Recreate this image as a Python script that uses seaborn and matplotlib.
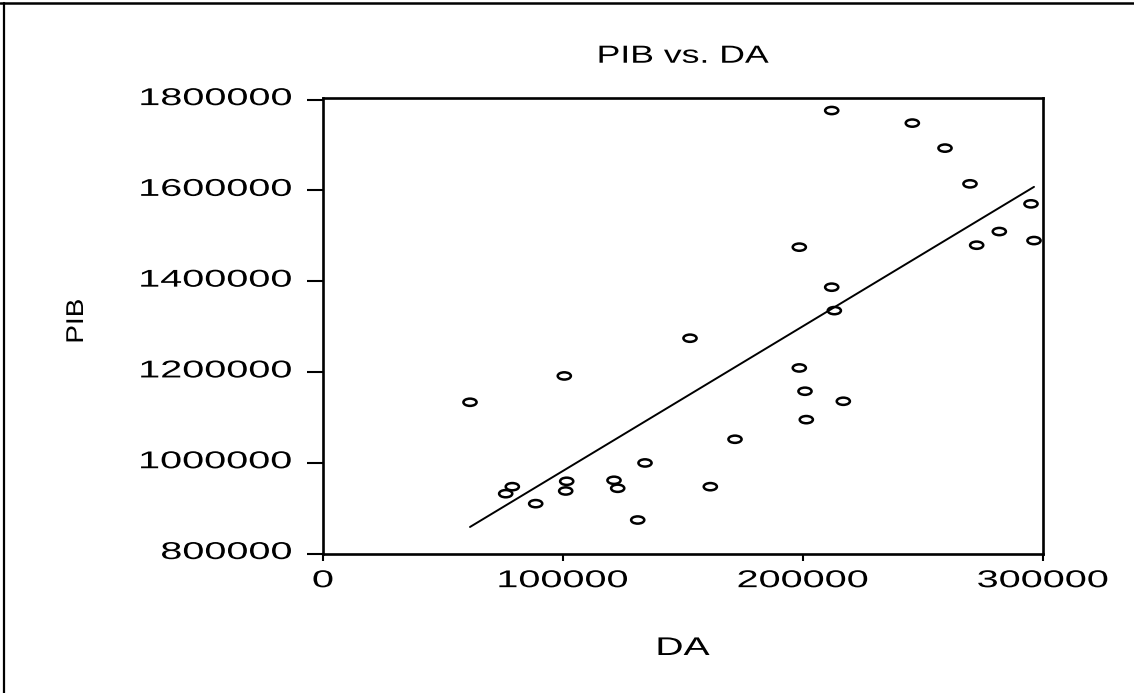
import matplotlib
matplotlib.use("Agg")
import numpy as np
import pandas as pd
import seaborn as sns
import matplotlib.pyplot as plt
from matplotlib.path import Path
from matplotlib.transforms import Affine2D
from matplotlib.patheffects import AbstractPathEffect
from matplotlib.lines import Line2D

# ---------------- data ----------------
da = [61250, 76120, 78880, 88620, 100540, 101120, 101540, 121250, 122790,
      131130, 134170, 152920, 161380, 171670, 198460, 198460, 200830, 201380,
      211960, 211960, 213060, 216800, 245550, 259170, 269580, 272360, 281800,
      295000, 296250]
pib = [1133200, 931800, 947200, 909800, 1191200, 937750, 959100, 961300, 943700,
       873800, 999500, 1274300, 947200, 1051700, 1474900, 1208800, 1157500, 1094900,
       1775900, 1386700, 1335100, 1135400, 1748200, 1693100, 1614400, 1479200, 1509300,
       1570300, 1489400]
x_ticks = [0, 100000, 200000, 300000]
x_tick_labels = ["0", "100000", "200000", "300000"]
y_ticks = [800000, 1000000, 1200000, 1400000, 1600000, 1800000]
y_tick_labels = ["800000", "1000000", "1200000", "1400000", "1600000", "1800000"]
title = "PIB vs. DA"
x_label = "DA"
y_label = "PIB"

df = pd.DataFrame({"DA": da, "PIB": pib})


# horizontal stretch of text glyphs (reference text is wide)
class Stretch(AbstractPathEffect):
    def __init__(self, sx=1.0, pivot="left", dy=0.0):
        super().__init__()
        self.sx = sx
        self.pivot = pivot
        self.dy = dy

    def draw_path(self, renderer, gc, tpath, affine, rgbFace=None):
        if len(tpath.vertices) == 0:
            return
        ext = tpath.get_extents()
        if self.pivot == "left":
            p = ext.x0
        elif self.pivot == "right":
            p = ext.x1
        else:
            p = 0.5 * (ext.x0 + ext.x1)
        tr = (Affine2D().translate(-p, 0).scale(self.sx, 1).translate(p, 0)
              + affine + Affine2D().translate(0, self.dy))
        renderer.draw_path(gc, tpath, tr, rgbFace)


sns.set_style("white")
plt.rcParams["font.family"] = ["Liberation Sans", "DejaVu Sans"]

W, H = 1134, 693
fig = plt.figure(figsize=(W / 100, H / 100), dpi=100)
ax = fig.add_axes([323 / W, 1 - 553.5 / H, 720 / W, 455.5 / H])

# elliptical open marker
circ = Path.unit_circle()
ell = Path(circ.vertices * np.array([1.0, 0.55]), circ.codes)

sns.scatterplot(data=df, x="DA", y="PIB", ax=ax, marker=ell, s=90,
                facecolor="none", edgecolor="black", linewidth=1.8, zorder=3)
sns.regplot(data=df, x="DA", y="PIB", ax=ax, scatter=False, ci=None,
            truncate=True, line_kws={"color": "black", "linewidth": 1.4})

ax.set_xlim(0, 300000)
ax.set_ylim(800000, 1803500)
ax.set_xticks(x_ticks, labels=x_tick_labels)
ax.set_yticks(y_ticks, labels=y_tick_labels)

for s in ax.spines.values():
    s.set_visible(True)
    s.set_linewidth(1.9)
    s.set_color("black")

ax.tick_params(axis="y", direction="out", length=11.3, width=1.5, pad=10.8,
               labelsize=17.5, colors="black", left=True)
ax.tick_params(axis="x", direction="out", length=5, width=1.5, pad=7,
               labelsize=17.5, colors="black", bottom=True)

ax.set_title(title, fontsize=17.8, pad=25.4, color="black")
ax.set_xlabel(x_label, fontsize=18.4, color="black")
ax.set_ylabel(y_label, fontsize=17.5, color="black")
ax.xaxis.label.set_va("baseline")
ax.xaxis.set_label_coords(0.5, (553.5 - 655) / 455.5)
ax.yaxis.label.set_va("baseline")
ax.yaxis.set_label_coords((83 - 323) / 720, 0.51)

# figure border (top and left)
fig.add_artist(Line2D([0, 1], [1 - 3 / H, 1 - 3 / H], transform=fig.transFigure,
                      color="black", linewidth=1.8))
fig.add_artist(Line2D([4 / W, 4 / W], [0, 1 - 3 / H], transform=fig.transFigure,
                      color="black", linewidth=1.6))

fig.canvas.draw()
ax.title.set_path_effects([Stretch(1.44, "center")])
ax.xaxis.label.set_path_effects([Stretch(1.53, "center")])
ax.yaxis.label.set_path_effects([Stretch(1.15, "center")])
for lab in ax.get_yticklabels():
    lab.set_path_effects([Stretch(1.63, "right", dy=3)])
for lab in ax.get_xticklabels():
    lab.set_path_effects([Stretch(1.63, "center")])

fig.savefig("out.png", dpi=100)
